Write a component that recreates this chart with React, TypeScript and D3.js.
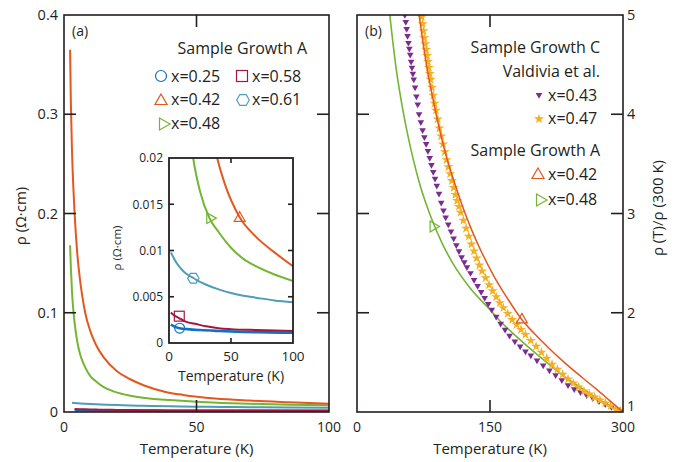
import React from "react";
import * as d3 from "d3";

const FONT = "'Open Sans', 'Noto Sans', sans-serif";
const INK = "#231f20";

// colours of the samples
const C025 = "#1170c0";
const C042 = "#e4571f";
const C048 = "#74b534";
const C058 = "#a3173f";
const C061 = "#4f9db5";
const C043 = "#7a2c91";
const C047 = "#f4b022";

// panel (a): resistivity (Ω·cm) vs temperature (K)
const t025 = [1.5, 4, 8.6, 15, 25, 40, 60, 80, 100];
const rho025 = [0.002, 0.0018, 0.0016, 0.0015, 0.0014, 0.0013, 0.0012, 0.00115, 0.0011];

const t042 = [2.3, 2.6, 3, 3.5, 4, 4.5, 5, 6, 7, 8, 10, 12, 15, 20, 25, 30, 38, 45, 57, 70, 85, 100];
const rho042 = [0.365, 0.31, 0.265, 0.228, 0.2, 0.178, 0.16, 0.134, 0.115, 0.1, 0.081, 0.068, 0.055, 0.041, 0.033, 0.027, 0.0205, 0.0172, 0.0136, 0.0115, 0.0098, 0.0083];

const t048 = [2.3, 2.6, 3, 3.5, 4, 5, 6, 7, 8, 10, 12, 15, 19.5, 25, 33, 40, 50, 60, 70, 85, 100];
const rho048 = [0.168, 0.145, 0.122, 0.103, 0.09, 0.071, 0.059, 0.051, 0.045, 0.036, 0.031, 0.025, 0.02, 0.0164, 0.0134, 0.012, 0.0103, 0.0091, 0.0083, 0.0074, 0.0067];

const t058 = [1.5, 4, 8, 12, 16, 20, 30, 40, 50, 70, 100];
const rho058 = [0.0033, 0.003, 0.0027, 0.0024, 0.0022, 0.0021, 0.0018, 0.0016, 0.0015, 0.0014, 0.0013];

const t061 = [1.5, 3, 5, 8, 12, 16, 20, 25, 30, 40, 50, 60, 70, 85, 100];
const rho061 = [0.0098, 0.0094, 0.0089, 0.0083, 0.0077, 0.0073, 0.007, 0.0066, 0.0063, 0.0058, 0.0054, 0.0051, 0.0049, 0.0046, 0.0044];

// inset marker positions [T, rho]
const mark025 = [8.6, 0.0016];
const mark058 = [8.3, 0.0029];
const mark061 = [19.6, 0.007];
const mark048 = [33, 0.0135];
const mark042 = [57, 0.0135];

// panel (b): rho(T)/rho(300 K)
const tN042 = [70, 75, 80, 90, 100, 110, 122, 130, 140, 155, 170, 186, 200, 218, 235, 255, 270, 285, 300];
const rN042 = [5.0, 4.69, 4.42, 3.97, 3.6, 3.31, 3.0, 2.82, 2.62, 2.36, 2.14, 1.93, 1.79, 1.63, 1.49, 1.34, 1.23, 1.115, 1.0];

const tN048 = [37, 44, 52, 58, 63.6, 70, 77, 84, 95, 108.6, 127.5, 150, 161, 180, 199, 218, 236.5, 255, 274, 300];
const rN048 = [5.0, 4.47, 4.03, 3.76, 3.54, 3.32, 3.12, 2.95, 2.72, 2.49, 2.25, 2.03, 1.92, 1.76, 1.61, 1.47, 1.34, 1.23, 1.12, 1.0];

const markN048 = [86, 2.87];
const markN042 = [186, 1.93];

// Valdivia et al., x = 0.43
const tV043 = [54, 55, 56, 57, 58, 59, 60, 61, 62, 63, 64, 65.5, 67, 68.5, 70, 72, 74, 76, 78, 80, 82, 84, 86, 88, 90, 92.5, 95, 97.5, 100, 103, 106, 109, 112, 115, 118, 121, 124, 128, 132, 136, 140, 144, 148, 152, 157, 162, 167, 172, 178, 184, 190, 196, 203, 210, 217, 224, 231, 238, 245, 252, 259, 266, 273, 280, 287, 294, 300];
const rV043 = [5.0, 4.93, 4.86, 4.79, 4.72, 4.66, 4.6, 4.53, 4.47, 4.41, 4.35, 4.27, 4.18, 4.1, 4.0, 3.92, 3.84, 3.77, 3.7, 3.63, 3.56, 3.49, 3.42, 3.35, 3.28, 3.2, 3.11, 3.03, 2.96, 2.89, 2.82, 2.75, 2.68, 2.62, 2.56, 2.51, 2.46, 2.4, 2.33, 2.27, 2.21, 2.15, 2.09, 2.03, 1.96, 1.89, 1.83, 1.77, 1.71, 1.66, 1.61, 1.57, 1.52, 1.47, 1.42, 1.37, 1.32, 1.27, 1.23, 1.2, 1.17, 1.14, 1.11, 1.08, 1.05, 1.02, 1.0];

// Valdivia et al., x = 0.47
const tV047 = [72, 73, 74, 75, 76, 77, 78, 79, 80, 81, 82, 83, 84.5, 86, 87.5, 89, 91, 93, 95, 97, 99, 101, 103, 105, 107, 109, 111, 113, 115, 117, 120, 123, 126, 129, 132, 135, 138, 141, 145, 149, 153, 157, 161, 165, 170, 175, 180, 185, 190, 196, 202, 208, 214, 220, 226, 232, 238, 244, 250, 256, 262, 268, 274, 280, 286, 292, 297, 300];
const rV047 = [5.05, 4.98, 4.91, 4.84, 4.77, 4.71, 4.65, 4.59, 4.53, 4.47, 4.41, 4.35, 4.27, 4.19, 4.11, 4.04, 3.95, 3.86, 3.78, 3.7, 3.62, 3.54, 3.47, 3.4, 3.33, 3.26, 3.19, 3.13, 3.07, 3.01, 2.93, 2.85, 2.77, 2.69, 2.62, 2.55, 2.48, 2.42, 2.35, 2.28, 2.22, 2.16, 2.1, 2.05, 1.99, 1.93, 1.88, 1.83, 1.78, 1.72, 1.66, 1.6, 1.54, 1.48, 1.43, 1.38, 1.33, 1.29, 1.25, 1.21, 1.18, 1.15, 1.12, 1.09, 1.06, 1.03, 1.01, 1.0];

const ticksA = [0, 0.1, 0.2, 0.3, 0.4];
const ticksInset = [0, 0.005, 0.01, 0.015, 0.02];
const ticksB = [1, 2, 3, 4, 5];

const xA = d3.scaleLinear([0, 100], [64, 329]);
const yA = d3.scaleLinear([0, 0.4], [412, 15]);
const xI = d3.scaleLinear([0, 100], [169, 293]);
const yI = d3.scaleLinear([0, 0.02], [343, 158]);
const xB = d3.scaleLinear([0, 300], [357, 623]);
const yB = d3.scaleLinear([1, 5], [412, 15]);

const zip = (t: number[], v: number[]) => t.map((d, i) => [d, v[i]] as [number, number]);

const mkLine = (x: any, y: any) =>
  d3.line<[number, number]>().x((d) => x(d[0])).y((d) => y(d[1])).curve(d3.curveMonotoneX);

// marker shapes
const poly = (pts: number[][]) => "M" + pts.map((p) => p.join(",")).join("L") + "Z";
const triUp = (cx: number, cy: number, r: number) =>
  poly([[cx, cy - r], [cx + r * 0.866, cy + r / 2], [cx - r * 0.866, cy + r / 2]]);
const triRight = (cx: number, cy: number, r: number) =>
  poly([[cx + r, cy], [cx - r / 2, cy - r * 0.866], [cx - r / 2, cy + r * 0.866]]);
const hexagon = (cx: number, cy: number, r: number) =>
  poly(d3.range(6).map((i) => [cx + r * Math.cos((i * Math.PI) / 3), cy + r * Math.sin((i * Math.PI) / 3)]));

const starPath = d3.symbol(d3.symbolStar, 32)();
const triDownPath = d3.symbol(d3.symbolTriangle, 19)();

const Marker = ({ kind, cx, cy, color, s = 1 }: any) => {
  const common = { fill: "none", stroke: color, strokeWidth: 1.2 };
  if (kind === "circle") return <circle cx={cx} cy={cy} r={5.5 * s} {...common} />;
  if (kind === "square") return <rect x={cx - 5.5 * s} y={cy - 5.5 * s} width={11 * s} height={11 * s} {...common} />;
  if (kind === "up") return <path d={triUp(cx, cy, 7 * s)} {...common} />;
  if (kind === "right") return <path d={triRight(cx, cy, 7 * s)} {...common} />;
  if (kind === "hex") return <path d={hexagon(cx, cy, 6.3 * s)} {...common} />;
  if (kind === "star") return <path d={starPath!} transform={`translate(${cx},${cy})`} fill={C047} />;
  return <path d={triDownPath!} transform={`translate(${cx},${cy}) rotate(180)`} fill={C043} />;
};

const txt = { fontFamily: FONT, fill: INK } as const;

const Frame = ({ x0, x1, y0, y1, w = 1.6 }: any) => (
  <rect x={x0} y={y1} width={x1 - x0} height={y0 - y1} fill="none" stroke={INK} strokeWidth={w} />
);

export default function App() {
  const lineA = mkLine(xA, yA);
  const lineI = mkLine(xI, yI);
  const lineB = mkLine(xB, yB);

  const seriesA = [
    { t: t025, v: rho025, c: C025, w: 2.6 },
    { t: t058, v: rho058, c: C058, w: 2 },
    { t: t061, v: rho061, c: C061, w: 2 },
    { t: t048, v: rho048, c: C048, w: 2 },
    { t: t042, v: rho042, c: C042, w: 2 },
  ];

  const insetMarks = [
    { m: mark025, k: "circle", c: C025 },
    { m: mark058, k: "square", c: C058 },
    { m: mark061, k: "hex", c: C061 },
    { m: mark048, k: "right", c: C048 },
    { m: mark042, k: "up", c: C042 },
  ];

  return (
    <div style={{ position: "fixed", left: 0, top: 0 }}>
      <svg width={674} height={462} style={{ display: "block", background: "#fff" }}>
        <defs>
          <clipPath id="clipA">
            <rect x={64} y={15} width={265} height={397} />
          </clipPath>
          <clipPath id="clipI">
            <rect x={169} y={158} width={124} height={185} />
          </clipPath>
          <clipPath id="clipB">
            <rect x={357} y={15} width={266} height={397} />
          </clipPath>
        </defs>

        {/* ---------- panel (a) ---------- */}
        <g clipPath="url(#clipA)">
          {seriesA.map((s, i) => (
            <path key={i} d={lineA(zip(s.t, s.v).filter((d) => d[0] >= 2.3))!} fill="none" stroke={s.c} strokeWidth={s.w} />
          ))}
        </g>
        <Frame x0={64} x1={329} y0={412} y1={15} />
        {ticksA.slice(1, -1).map((t) => (
          <g key={t}>
            <line x1={64} x2={76} y1={yA(t)} y2={yA(t)} stroke={INK} strokeWidth={1.6} />
            <line x1={317} x2={329} y1={yA(t)} y2={yA(t)} stroke={INK} strokeWidth={1.6} />
          </g>
        ))}
        <line x1={xA(50)} x2={xA(50)} y1={412} y2={400} stroke={INK} strokeWidth={1.6} />
        <line x1={xA(50)} x2={xA(50)} y1={15} y2={27} stroke={INK} strokeWidth={1.6} />
        {ticksA.map((t) => (
          <text key={t} x={58} y={yA(t)} dy="0.36em" textAnchor="end" fontSize={14.5} {...txt}>
            {t === 0 ? "0" : String(t)}
          </text>
        ))}
        {[0, 50, 100].map((t) => (
          <text key={t} x={xA(t)} y={432} textAnchor="middle" fontSize={14} {...txt}>
            {t}
          </text>
        ))}
        <text x={xA(50)} y={454} textAnchor="middle" fontSize={15} {...txt}>
          Temperature (K)
        </text>
        <text transform="translate(26,216) rotate(-90)" textAnchor="middle" fontSize={15} {...txt}>
          ρ (Ω·cm)
        </text>
        <text x={72} y={36} fontSize={14} {...txt}>(a)</text>

        {/* legend (a) */}
        <text x={307} y={54} textAnchor="end" fontSize={16} {...txt}>Sample Growth A</text>
        <Marker kind="circle" cx={161} cy={76} color={C025} />
        <text x={171} y={82} fontSize={16} {...txt}>x=0.25</text>
        <Marker kind="square" cx={242} cy={76} color={C058} />
        <text x={252} y={82} fontSize={16} {...txt}>x=0.58</text>
        <Marker kind="up" cx={161} cy={101} color={C042} />
        <text x={171} y={105} fontSize={16} {...txt}>x=0.42</text>
        <Marker kind="hex" cx={243} cy={100} color={C061} />
        <text x={252} y={105} fontSize={16} {...txt}>x=0.61</text>
        <Marker kind="right" cx={163} cy={124} color={C048} />
        <text x={171} y={129} fontSize={16} {...txt}>x=0.48</text>

        {/* inset */}
        <rect x={169} y={158} width={124} height={185} fill="#fff" />
        <g clipPath="url(#clipI)">
          {seriesA.map((s, i) => (
            <path key={i} d={lineI(zip(s.t, s.v))!} fill="none" stroke={s.c} strokeWidth={s.w} />
          ))}
        </g>
        {insetMarks.map((d, i) => (
          <Marker key={i} kind={d.k} cx={xI(d.m[0])} cy={yI(d.m[1])} color={d.c} s={0.9} />
        ))}
        <Frame x0={169} x1={293} y0={343} y1={158} w={1.8} />
        {ticksInset.slice(1, -1).map((t) => (
          <g key={t}>
            <line x1={169} x2={174} y1={yI(t)} y2={yI(t)} stroke={INK} strokeWidth={1.6} />
            <line x1={288} x2={293} y1={yI(t)} y2={yI(t)} stroke={INK} strokeWidth={1.6} />
          </g>
        ))}
        <line x1={xI(50)} x2={xI(50)} y1={343} y2={338} stroke={INK} strokeWidth={1.6} />
        <line x1={xI(50)} x2={xI(50)} y1={158} y2={163} stroke={INK} strokeWidth={1.6} />
        {ticksInset.map((t) => (
          <text key={t} x={163} y={yI(t)} dy="0.36em" textAnchor="end" fontSize={12} {...txt}>
            {t === 0 ? "0" : String(t)}
          </text>
        ))}
        {[0, 50, 100].map((t) => (
          <text key={t} x={xI(t)} y={361} textAnchor="middle" fontSize={13.5} {...txt}>
            {t}
          </text>
        ))}
        <text x={xI(50)} y={381} textAnchor="middle" fontSize={14} {...txt}>
          Temperature (K)
        </text>
        <text transform="translate(121,248) rotate(-90)" textAnchor="middle" fontSize={11.5} {...txt}>
          ρ (Ω·cm)
        </text>

        {/* ---------- panel (b) ---------- */}
        <g clipPath="url(#clipB)">
          <path d={lineB(zip(tN048, rN048))!} fill="none" stroke={C048} strokeWidth={1.6} />
          {zip(tV043, rV043).map((d, i) => (
            <Marker key={"p" + i} kind="down" cx={xB(d[0])} cy={yB(d[1])} />
          ))}
          {zip(tV047, rV047).map((d, i) => (
            <Marker key={"s" + i} kind="star" cx={xB(d[0])} cy={yB(d[1])} />
          ))}
          <path d={lineB(zip(tN042, rN042))!} fill="none" stroke={C042} strokeWidth={1.5} />
        </g>
        <Marker kind="right" cx={xB(markN048[0])} cy={yB(markN048[1])} color={C048} s={0.9} />
        <Marker kind="up" cx={xB(markN042[0])} cy={yB(markN042[1])} color={C042} s={0.9} />
        <Frame x0={357} x1={623} y0={412} y1={15} />
        {ticksB.slice(1, -1).map((t) => (
          <g key={t}>
            <line x1={357} x2={369} y1={yB(t)} y2={yB(t)} stroke={INK} strokeWidth={1.6} />
            <line x1={611} x2={623} y1={yB(t)} y2={yB(t)} stroke={INK} strokeWidth={1.6} />
          </g>
        ))}
        <line x1={xB(150)} x2={xB(150)} y1={412} y2={400} stroke={INK} strokeWidth={1.6} />
        <line x1={xB(150)} x2={xB(150)} y1={15} y2={27} stroke={INK} strokeWidth={1.6} />
        {ticksB.map((t) => (
          <text key={t} x={627} y={t === 1 ? 406 : yB(t)} dy="0.36em" fontSize={14.5} {...txt}>
            {t}
          </text>
        ))}
        {[0, 150, 300].map((t) => (
          <text key={t} x={xB(t)} y={432} textAnchor="middle" fontSize={14} {...txt}>
            {t}
          </text>
        ))}
        <text x={xB(150)} y={454} textAnchor="middle" fontSize={15} {...txt}>
          Temperature (K)
        </text>
        <text transform="translate(663,208) rotate(-90)" textAnchor="middle" fontSize={15} {...txt}>
          ρ (T)/ρ (300 K)
        </text>
        <text x={365} y={36} fontSize={14} {...txt}>(b)</text>

        {/* legend (b) */}
        <text x={600} y={53} textAnchor="end" fontSize={16} {...txt}>Sample Growth C</text>
        <text x={600} y={77} textAnchor="end" fontSize={16} {...txt}>Valdivia et al.</text>
        <Marker kind="down" cx={539} cy={95} />
        <text x={548} y={101} fontSize={16} {...txt}>x=0.43</text>
        <Marker kind="star" cx={539} cy={119} />
        <text x={548} y={124} fontSize={16} {...txt}>x=0.47</text>
        <text x={600} y={156} textAnchor="end" fontSize={16} {...txt}>Sample Growth A</text>
        <Marker kind="up" cx={538} cy={175} color={C042} />
        <text x={548} y={180} fontSize={16} {...txt}>x=0.42</text>
        <Marker kind="right" cx={540} cy={200} color={C048} />
        <text x={548} y={205} fontSize={16} {...txt}>x=0.48</text>
      </svg>
    </div>
  );
}
